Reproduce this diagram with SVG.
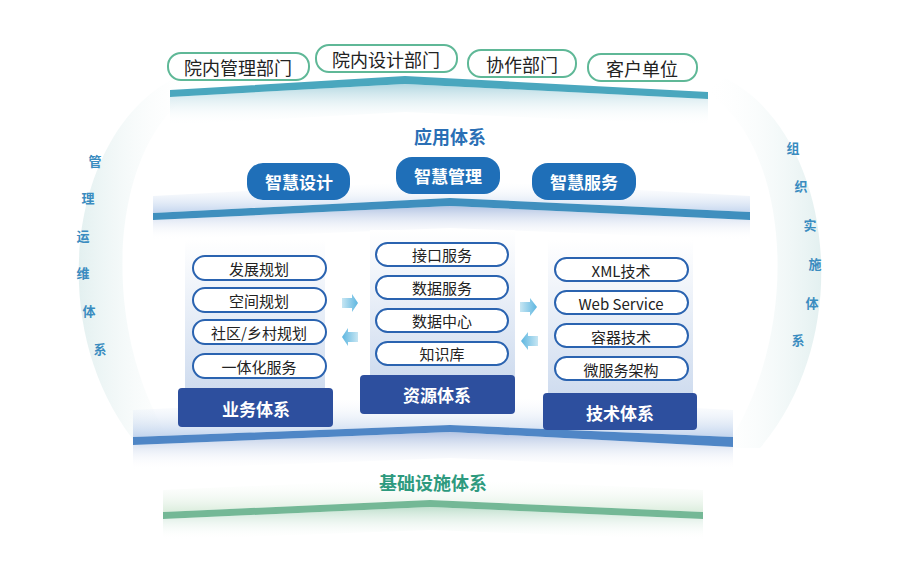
<svg xmlns="http://www.w3.org/2000/svg" width="900" height="568" viewBox="0 0 900 568">
<defs>
<linearGradient id="colbg" x1="0" y1="0" x2="0" y2="1"><stop offset="0" stop-color="#ffffff"/><stop offset="1" stop-color="#cfdcef"/></linearGradient>
<linearGradient id="shadowT" x1="0" y1="0" x2="0" y2="1"><stop offset="0" stop-color="#a9d3de" stop-opacity="0.9"/><stop offset="1" stop-color="#ffffff" stop-opacity="0"/></linearGradient>
<linearGradient id="shadowB" x1="0" y1="0" x2="0" y2="1"><stop offset="0" stop-color="#aabde0" stop-opacity="0.9"/><stop offset="1" stop-color="#ffffff" stop-opacity="0"/></linearGradient>
<linearGradient id="shadowG" x1="0" y1="0" x2="0" y2="1"><stop offset="0" stop-color="#b9dcc8" stop-opacity="0.9"/><stop offset="1" stop-color="#ffffff" stop-opacity="0"/></linearGradient>
<linearGradient id="glowUp" x1="0" y1="1" x2="0" y2="0"><stop offset="0" stop-color="#bcd0ec" stop-opacity="0.9"/><stop offset="1" stop-color="#ffffff" stop-opacity="0"/></linearGradient>
<linearGradient id="glowG" x1="0" y1="1" x2="0" y2="0"><stop offset="0" stop-color="#d7ebd9" stop-opacity="0.9"/><stop offset="1" stop-color="#ffffff" stop-opacity="0"/></linearGradient>
<linearGradient id="arcL" x1="0" y1="0" x2="1" y2="0"><stop offset="0" stop-color="#e3f0f0"/><stop offset="1" stop-color="#ffffff" stop-opacity="0"/></linearGradient>
<linearGradient id="arcR" x1="1" y1="0" x2="0" y2="0"><stop offset="0" stop-color="#e3f0f0"/><stop offset="1" stop-color="#ffffff" stop-opacity="0"/></linearGradient>
<linearGradient id="arrowG" x1="0" y1="0" x2="1" y2="0"><stop offset="0" stop-color="#c7e6f3"/><stop offset="1" stop-color="#5db6e0"/></linearGradient>
<linearGradient id="arrowG2" x1="1" y1="0" x2="0" y2="0"><stop offset="0" stop-color="#c7e6f3"/><stop offset="1" stop-color="#5db6e0"/></linearGradient>
</defs>
<style>
text{font-family:"Noto Sans CJK SC","Noto Sans",sans-serif;text-anchor:middle;dominant-baseline:central}
.top rect{fill:#fff;stroke:#5fb897;stroke-width:2}
.top text{font-size:18px;fill:#222}
.app rect{fill:#1f6fb8}
.app text{font-size:17px;fill:#fff;font-weight:bold}
.pill rect{fill:#fff;stroke:#2a63b0;stroke-width:2}
.pill text{font-size:15px;fill:#222}
.ttl rect{fill:#2d4f9e}
.ttl text{font-size:17px;fill:#fff;font-weight:bold}
.side text{font-size:13px;fill:#3a8cc0;font-weight:bold}
</style>
<rect width="900" height="568" fill="#fff"/>
<g id="arcs">
<path d="M175,78 C70,130 40,330 140,448 L175,448 C95,330 110,140 195,92 Z" fill="url(#arcL)"/>
<path d="M725,78 C830,130 860,330 760,448 L725,448 C805,330 790,140 705,92 Z" fill="url(#arcR)"/>
</g>
<g id="bands">
<polygon points="170,97 405,84 708,99 708,125 405,112 170,125" fill="url(#shadowT)"/>
<polygon points="170,90 405,76 708,92 708,99 405,84 170,97" fill="#4aa7be"/>
<polygon points="153,220 450,206 750,220 750,240 450,228 153,240" fill="url(#shadowB)"/>
<polygon points="153,196 450,180 750,196 750,212 450,198 153,213" fill="url(#glowUp)"/>
<polygon points="153,213 450,198 750,212 750,220 450,206 153,220" fill="#3f8fbe"/>
<polygon points="133,445 450,432 733,447 733,470 450,458 133,470" fill="url(#shadowB)"/>
<polygon points="133,410 450,395 733,410 733,437 450,425 133,437" fill="url(#glowUp)"/>
<polygon points="133,437 450,425 733,437 733,447 450,432 133,445" fill="#4f86c6"/>
<polygon points="163,519 430,507 703,519 703,540 430,530 163,540" fill="url(#shadowG)"/>
<polygon points="163,490 430,478 703,490 703,512 430,500 163,512" fill="url(#glowG)"/>
<polygon points="163,512 430,500 703,512 703,519 430,507 163,519" fill="#74b896"/>
</g>
<g id="top-nodes" class="top">
<g id="n-mgmt"><rect x="168" y="53" width="141" height="27" rx="13"/><text x="238" y="67">院内管理部门</text></g>
<g id="n-design"><rect x="316" y="45" width="141" height="27" rx="13"/><text x="386" y="59">院内设计部门</text></g>
<g id="n-coop"><rect x="468" y="50" width="108" height="27" rx="13"/><text x="522" y="64">协作部门</text></g>
<g id="n-client"><rect x="588" y="54" width="109" height="27" rx="13"/><text x="642" y="68">客户单位</text></g>
</g>
<text x="450" y="136" style="font-size:18px;font-weight:bold;fill:#2a6fb5">应用体系</text>
<g id="app-nodes" class="app">
<g id="a1"><rect x="247" y="163" width="103" height="37" rx="16"/><text x="299" y="181">智慧设计</text></g>
<g id="a2"><rect x="396" y="157" width="104" height="37" rx="16"/><text x="448" y="175">智慧管理</text></g>
<g id="a3"><rect x="532" y="163" width="104" height="37" rx="16"/><text x="584" y="181">智慧服务</text></g>
</g>
<g id="col-biz">
<rect x="185" y="240" width="140" height="150" fill="url(#colbg)"/>
<g class="pill">
<rect x="193" y="256" width="133" height="24" rx="12"/><text x="259" y="268">发展规划</text>
<rect x="193" y="288" width="133" height="24" rx="12"/><text x="259" y="300">空间规划</text>
<rect x="193" y="320" width="133" height="24" rx="12"/><text x="259" y="332">社区/乡村规划</text>
<rect x="193" y="354" width="133" height="24" rx="12"/><text x="259" y="366">一体化服务</text>
</g>
<g class="ttl"><rect x="178" y="388" width="155" height="39" rx="4"/><text x="256" y="408">业务体系</text></g>
</g>
<g id="col-res">
<rect x="370" y="230" width="145" height="148" fill="url(#colbg)"/>
<g class="pill">
<rect x="376" y="243" width="132" height="23" rx="11.5"/><text x="442" y="254">接口服务</text>
<rect x="376" y="276" width="132" height="23" rx="11.5"/><text x="442" y="287">数据服务</text>
<rect x="376" y="309" width="132" height="23" rx="11.5"/><text x="442" y="320">数据中心</text>
<rect x="376" y="342" width="132" height="23" rx="11.5"/><text x="442" y="353">知识库</text>
</g>
<g class="ttl"><rect x="360" y="375" width="155" height="39" rx="4"/><text x="437" y="394">资源体系</text></g>
</g>
<g id="col-tech">
<rect x="548" y="240" width="145" height="155" fill="url(#colbg)"/>
<g class="pill">
<rect x="555" y="258" width="133" height="23" rx="11.5"/><text x="621" y="270">XML技术</text>
<rect x="555" y="291" width="133" height="23" rx="11.5"/><text x="621" y="303">Web Service</text>
<rect x="555" y="324" width="133" height="23" rx="11.5"/><text x="621" y="336">容器技术</text>
<rect x="555" y="357" width="133" height="23" rx="11.5"/><text x="621" y="369">微服务架构</text>
</g>
<g class="ttl"><rect x="543" y="393" width="154" height="37" rx="4"/><text x="620" y="412">技术体系</text></g>
</g>
<g id="connectors">
<polygon points="342,298 352,298 352,294 358,303 352,312 352,308 342,308" fill="url(#arrowG)"/>
<polygon points="358,332 348,332 348,328 342,337 348,346 348,342 358,342" fill="url(#arrowG2)"/>
<polygon points="520,302 530,302 530,298 537,307 530,316 530,312 520,312" fill="url(#arrowG)"/>
<polygon points="538,336 528,336 528,332 521,341 528,350 528,346 538,346" fill="url(#arrowG2)"/>
</g>
<g class="side">
<text x="95" y="160">管</text><text x="88" y="197">理</text><text x="83" y="235">运</text><text x="83" y="272">维</text><text x="89" y="310">体</text><text x="100" y="348">系</text>
<text x="793" y="147">组</text><text x="801" y="185">织</text><text x="810" y="224">实</text><text x="815" y="263">施</text><text x="812" y="302">体</text><text x="798" y="339">系</text>
</g>
<text x="433" y="482" style="font-size:18px;font-weight:bold;fill:#2e9a7e">基础设施体系</text>
</svg>
